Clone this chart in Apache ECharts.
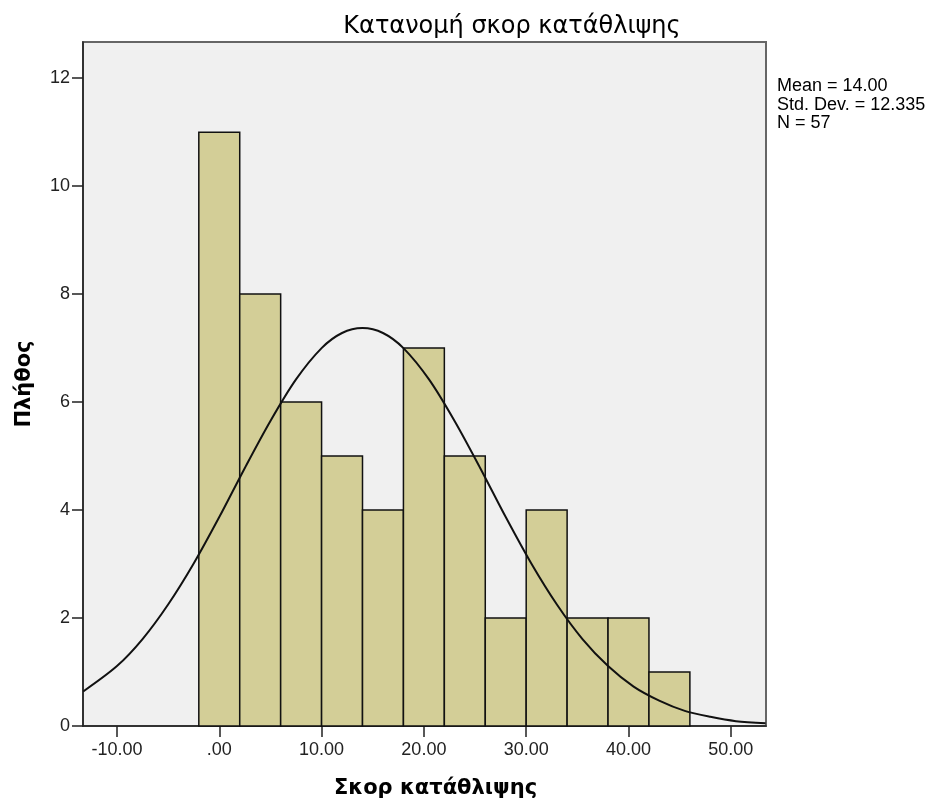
<!DOCTYPE html>
<html>
<head>
<meta charset="utf-8">
<script src="https://cdn.jsdelivr.net/npm/echarts@6/dist/echarts.min.js"></script>
<style>
  html, body { margin: 0; padding: 0; background: #fff; }
  #chart { width: 926px; height: 801px; }
</style>
</head>
<body>
<div id="chart"></div>
<script>
// histogram bins (centre of each 4-wide bin) and counts
var binCenters = [0, 4, 8, 12, 16, 20, 24, 28, 32, 36, 40, 44];
var binCounts = [11, 8, 6, 5, 4, 7, 5, 2, 4, 2, 2, 1];
var binWidth = 4;

// normal curve, points
var curveX = [-13.3, -10, -7.5, -5, -2.5, 0, 2.5, 5, 7.5, 10, 12, 14, 16, 18, 20.5, 23, 25.5, 28, 30.5, 33, 35.5, 38, 40.5, 43, 45.5, 48, 50.5, 53.4];
var curveY = [0.64, 1.11, 1.61, 2.25, 3.01, 3.87, 4.78, 5.65, 6.42, 7.0, 7.28, 7.37, 7.28, 7.0, 6.42, 5.65, 4.78, 3.87, 3.01, 2.25, 1.61, 1.11, 0.73, 0.47, 0.28, 0.17, 0.09, 0.05];

var xTicks = [-10, 0, 10, 20, 30, 40, 50];
var yTicks = [0, 2, 4, 6, 8, 10, 12];
var statsLines = ['Mean = 14.00', 'Std. Dev. = 12.335', 'N = 57'];

var chart = echarts.init(document.getElementById('chart'));

var barData = binCenters.map(function (c, i) { return [c, binCounts[i]]; });
var lineData = curveX.map(function (x, i) { return [x, curveY[i]]; });

var font = '"Liberation Sans", Arial, sans-serif';
var boldFont = '"DejaVu Sans", Verdana, sans-serif';

var option = {
  animation: false,
  backgroundColor: '#fff',
  title: {
    text: 'Κατανομή σκορ κατάθλιψης',
    left: 507,
    top: 10,
    textAlign: 'center',
    textStyle: { fontFamily: boldFont, fontSize: 24, fontWeight: 'normal', color: '#000' }
  },
  grid: {
    left: 83, right: 160, top: 42, bottom: 75,
    outerBoundsMode: 'none',
    containLabel: false,
    show: true,
    backgroundColor: '#f0f0f0',
    borderColor: '#666',
    borderWidth: 2
  },
  xAxis: {
    type: 'value',
    min: -13.32,
    max: 53.44,
    name: 'Σκορ κατάθλιψης',
    nameLocation: 'middle',
    nameGap: 52,
    nameTextStyle: { fontFamily: boldFont, fontSize: 21, fontWeight: 'bold', color: '#000', padding: [0, 0, 0, 22] },
    splitLine: { show: false },
    axisLine: { show: true, onZero: false, lineStyle: { color: '#222', width: 1.5 } },
    axisTick: { show: true, length: 11, customValues: xTicks, lineStyle: { color: '#222', width: 1.5 } },
    axisLabel: {
      customValues: xTicks,
      margin: 15,
      fontFamily: font, fontSize: 18, color: '#222',
      formatter: function (v) { return v === 0 ? '.00' : v.toFixed(2); }
    }
  },
  yAxis: {
    type: 'value',
    min: 0,
    max: 12.67,
    name: 'Πλήθος',
    nameLocation: 'middle',
    nameGap: 48,
    nameRotate: 90,
    nameTextStyle: { fontFamily: boldFont, fontSize: 21, fontWeight: 'bold', color: '#000' },
    splitLine: { show: false },
    axisLine: { show: true, onZero: false, lineStyle: { color: '#222', width: 1.5 } },
    axisTick: { show: true, length: 11, customValues: yTicks, lineStyle: { color: '#222', width: 1.5 } },
    axisLabel: { customValues: yTicks, margin: 13, fontFamily: font, fontSize: 18, color: '#222' }
  },
  graphic: [{
    type: 'text',
    left: 777,
    top: 77,
    style: {
      text: statsLines.join('\n'),
      fontFamily: font,
      fontSize: 18,
      lineHeight: 18.5,
      fill: '#000'
    }
  }],
  series: [
    {
      type: 'custom',
      data: barData,
      renderItem: function (params, api) {
        var c = api.value(0);
        var p0 = api.coord([c - binWidth / 2, api.value(1)]);
        var p1 = api.coord([c + binWidth / 2, 0]);
        return {
          type: 'rect',
          shape: { x: p0[0], y: p0[1], width: p1[0] - p0[0], height: p1[1] - p0[1] },
          style: { fill: '#d3ce97', stroke: '#111', lineWidth: 1.5 }
        };
      },
      z: 2
    },
    {
      type: 'line',
      data: lineData,
      smooth: 0.3,
      showSymbol: false,
      lineStyle: { color: '#111', width: 2 },
      z: 3
    }
  ]
};

chart.setOption(option);
</script>
</body>
</html>
